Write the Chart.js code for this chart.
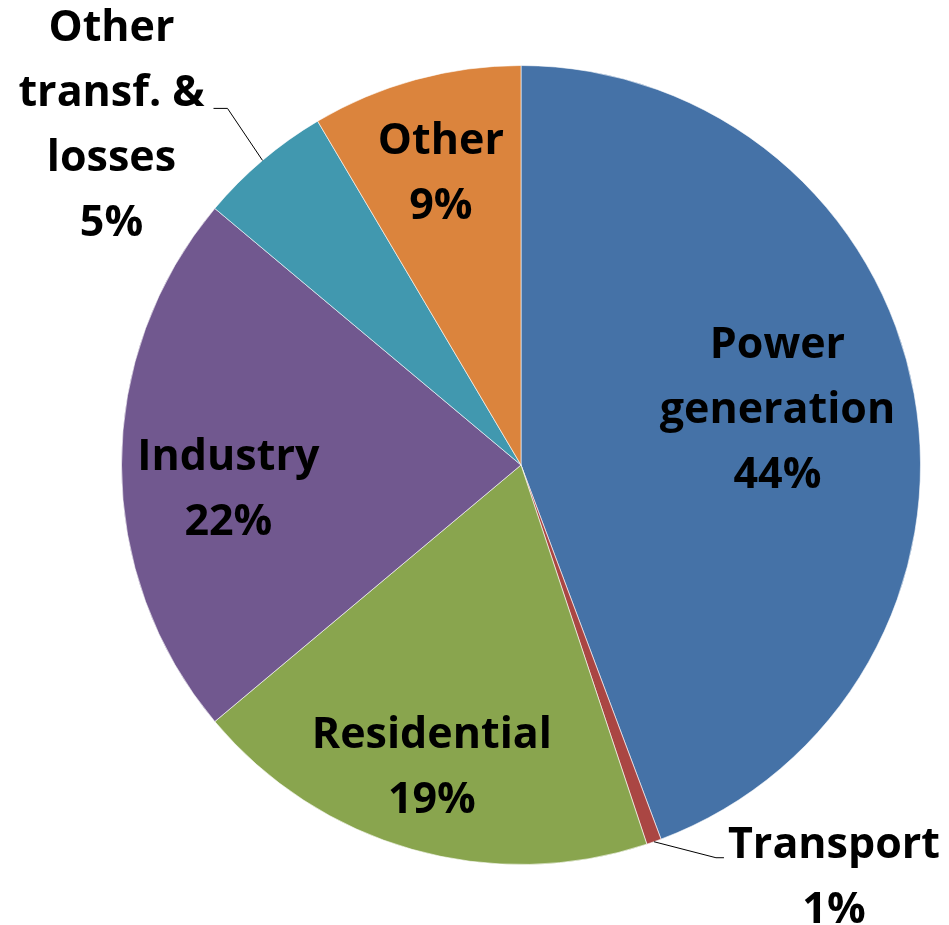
<!DOCTYPE html>
<html>
<head>
<meta charset="utf-8">
<script src="https://cdn.jsdelivr.net/npm/chart.js@4.4.0/dist/chart.umd.min.js"></script>
<style>
  html, body { margin: 0; padding: 0; background: #fff; }
  #plots { display: block; }
</style>
</head>
<body>
<canvas id="plots" width="949" height="925"></canvas>
<script>
// data (share of total, %)
const categorias = ["Power generation", "Transport", "Residential", "Industry", "Other transf. & losses", "Other"]
const valores = [44.3, 0.6, 19.0, 22.2, 5.4, 8.5]
// label text broken into lines like the original
const rotulos = [["Power", "generation"], ["Transport"], ["Residential"], ["Industry"], ["Other", "transf. &", "losses"], ["Other"]]
const cores = ['#4572A7', '#AA4643', '#89A54E', '#71588F', '#4198AF', '#DB843D']

// where each label sits: inside at a fraction of radius, or outside with a leader line
const posRotulo = [
  { tipo: 'dentro', r: 0.66, dx: -3, dy: -7 },
  { tipo: 'fora', cotovelo: [62, 16], fim: [70, 16], lado: 'esq', dx: 4, dy: 12 },
  { tipo: 'dentro', r: 0.79, dx: -3, dy: 0 },
  { tipo: 'dentro', r: 0.74, dx: 3, dy: 25 },
  { tipo: 'fora', cotovelo: [-35, -52], fim: [-49, -52], lado: 'dir', dx: -102, dy: -80 },
  { tipo: 'dentro', r: 0.76, dx: 0, dy: 2 }
]

const fonte = 'bold 43px "Open Sans"'
const alturaLinha = 65

const total = valores.reduce((a, b) => a + b, 0)

const pluginRotulos = {
  id: 'rotulos',
  afterDatasetsDraw(chart) {
    const ctx = chart.ctx
    const arcos = chart.getDatasetMeta(0).data
    ctx.save()
    ctx.font = fonte
    ctx.fillStyle = '#000'
    ctx.textAlign = 'center'
    ctx.textBaseline = 'middle'
    arcos.forEach(function (arco, i) {
      const p = arco.getProps(['x', 'y', 'startAngle', 'endAngle', 'outerRadius'], true)
      const meio = (p.startAngle + p.endAngle) / 2
      const linhas = rotulos[i].concat([Math.round(valores[i] / total * 100) + '%'])
      const cfg = posRotulo[i]
      let cx, cy
      if (cfg.tipo === 'dentro') {
        cx = p.x + Math.cos(meio) * p.outerRadius * cfg.r + cfg.dx
        cy = p.y + Math.sin(meio) * p.outerRadius * cfg.r + cfg.dy
      } else {
        const ex = p.x + Math.cos(meio) * p.outerRadius
        const ey = p.y + Math.sin(meio) * p.outerRadius
        ctx.beginPath()
        ctx.strokeStyle = '#000'
        ctx.lineWidth = 1
        ctx.moveTo(ex, ey)
        ctx.lineTo(ex + cfg.cotovelo[0], ey + cfg.cotovelo[1])
        ctx.lineTo(ex + cfg.fim[0], ey + cfg.fim[1])
        ctx.stroke()
        const fx = ex + cfg.fim[0]
        const fy = ey + cfg.fim[1]
        if (cfg.lado === 'esq') {
          cx = fx + cfg.dx + ctx.measureText(linhas[0]).width / 2
          cy = fy - cfg.dy + (linhas.length - 1) / 2 * alturaLinha
        } else {
          cx = fx + cfg.dx
          cy = fy + cfg.dy + (linhas.length - 1) / 2 * alturaLinha
        }
      }
      linhas.forEach(function (l, k) {
        ctx.fillText(l, cx, cy + (k - (linhas.length - 1) / 2) * alturaLinha)
      })
    })
    ctx.restore()
  }
}

const grafico = new Chart(document.getElementById('plots'), {
  type: 'pie',
  data: {
    labels: categorias,
    datasets: [{
      data: valores,
      backgroundColor: cores,
      borderColor: 'rgba(255,255,255,0.6)',
      borderWidth: 1
    }]
  },
  options: {
    responsive: false,
    animation: false,
    layout: { padding: { left: 121, right: 28, top: 65, bottom: 60 } },
    plugins: {
      legend: { display: false },
      tooltip: { enabled: false }
    }
  },
  plugins: [pluginRotulos]
})
</script>
</body>
</html>
